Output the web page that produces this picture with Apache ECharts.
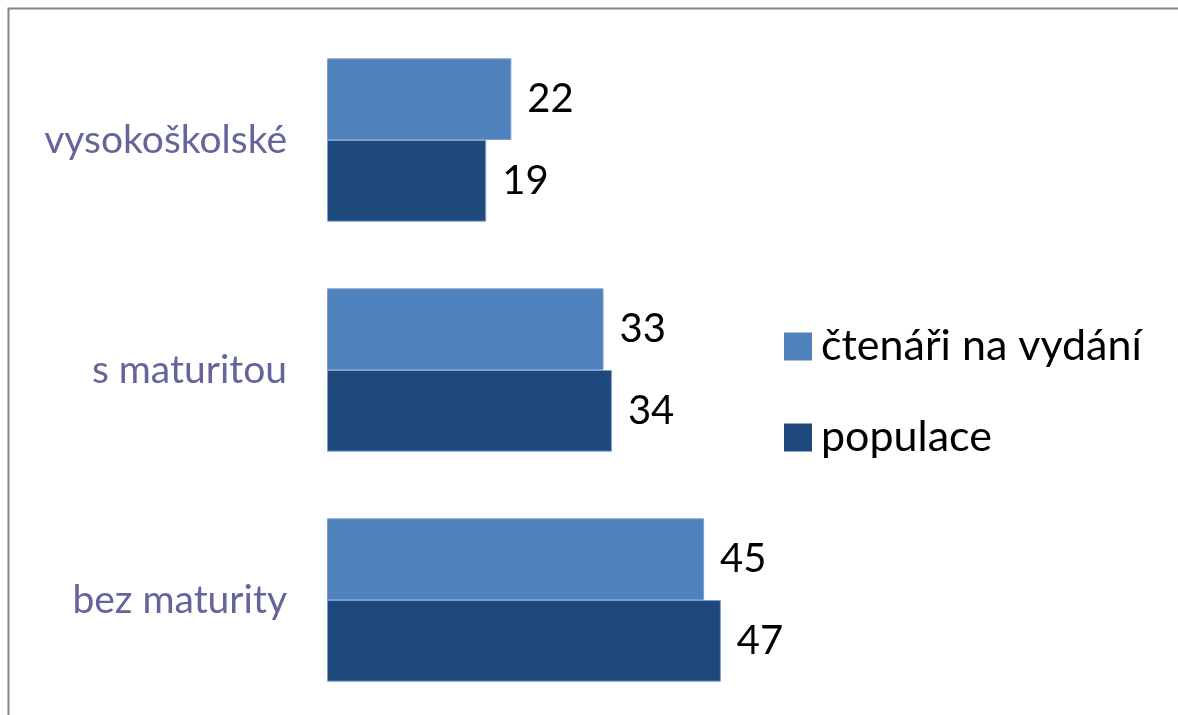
<!DOCTYPE html>
<html>
<head>
<meta charset="utf-8">
<script src="https://cdn.jsdelivr.net/npm/echarts@6/dist/echarts.min.js"></script>
<style>
  html, body { margin: 0; padding: 0; background: #fff; }
  #chart { width: 1178px; height: 715px; }
</style>
</head>
<body>
<div id="chart"></div>
<script>
// kategorie vzdělání (shora dolů)
const categories = ['vysokoškolské', 's maturitou', 'bez maturity'];
const seriesNames = ['čtenáři na vydání', 'populace'];
const ctenari = [22, 33, 45];
const populace = [19, 34, 47];

const fontFamily = 'Lato, "Noto Sans", sans-serif';

function drawEducationChart() {
    const chart = echarts.init(document.getElementById('chart'));

    const barLabel = {
        show: true,
        position: 'right',
        distance: 16,
        color: '#000',
        fontFamily: fontFamily,
        fontSize: 40
    };

    const option = {
        animation: false,
        graphic: [{
            type: 'rect',
            shape: { x: 8.5, y: 8.5, width: 1300, height: 900 },
            style: { fill: 'none', stroke: '#868686', lineWidth: 2 },
            silent: true
        }],
        legend: {
            orient: 'vertical',
            left: 779,
            top: 320,
            itemWidth: 28,
            itemHeight: 28,
            itemGap: 48,
            icon: 'rect',
            itemStyle: { borderWidth: 0 },
            textStyle: {
                fontFamily: fontFamily,
                fontSize: 43,
                color: '#000',
                padding: [0, 0, 0, 4]
            },
            data: seriesNames
        },
        grid: {
            left: 327,
            right: 432,
            top: 25,
            bottom: 0
        },
        xAxis: {
            type: 'value',
            min: 0,
            max: 50,
            show: false
        },
        yAxis: {
            type: 'category',
            data: categories,
            inverse: true,
            axisLine: { show: false },
            axisTick: { show: false },
            axisLabel: {
                margin: 40,
                color: '#65659B',
                fontFamily: fontFamily,
                fontSize: 39
            }
        },
        series: [
            {
                name: seriesNames[0],
                type: 'bar',
                data: ctenari,
                barGap: '0%',
                barCategoryGap: '29%',
                itemStyle: { color: '#4F81BD', borderColor: '#7C9FCF', borderWidth: 1 },
                label: barLabel
            },
            {
                name: seriesNames[1],
                type: 'bar',
                data: populace,
                barGap: '0%',
                barCategoryGap: '29%',
                itemStyle: { color: '#1F497D', borderColor: '#7C9FCF', borderWidth: 1 },
                label: barLabel
            }
        ]
    };

    chart.setOption(option);
}

drawEducationChart();
</script>
</body>
</html>
